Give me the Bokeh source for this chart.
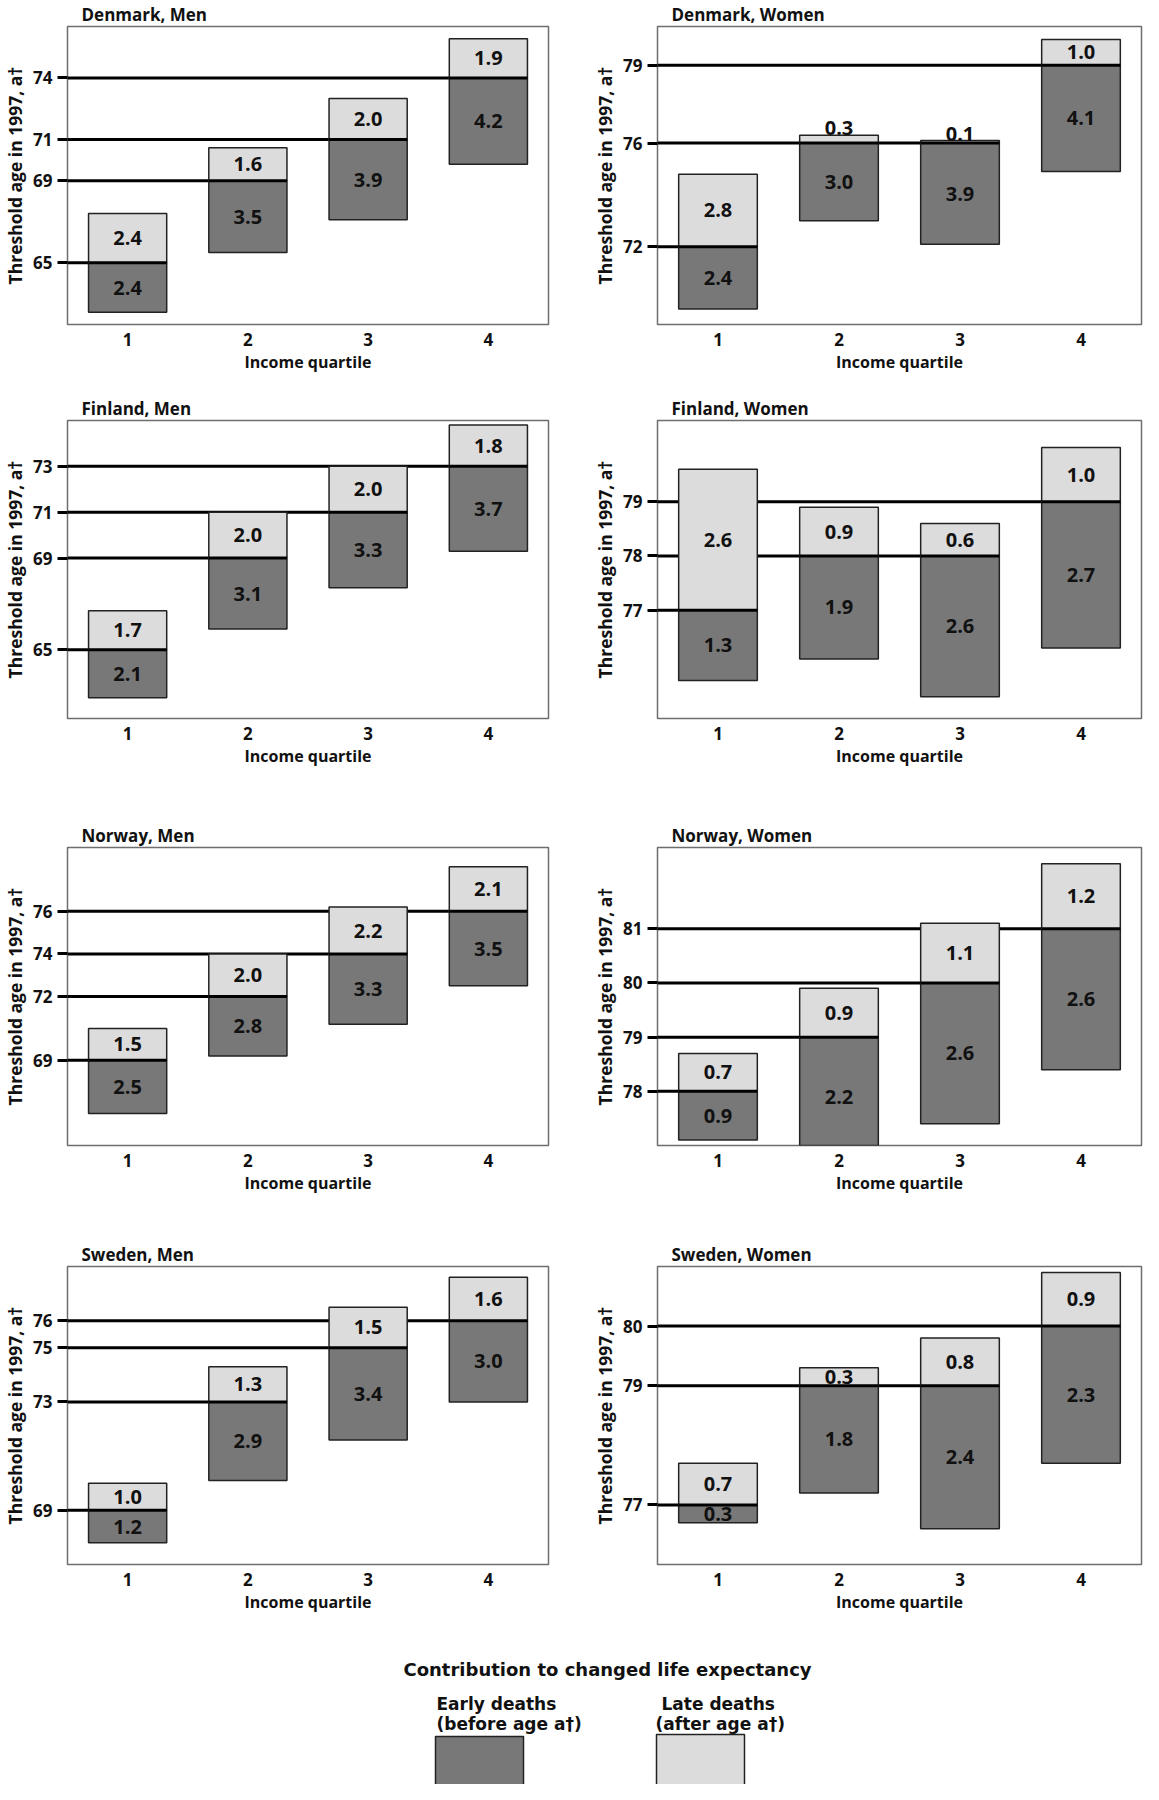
from bokeh.plotting import figure
from bokeh.layouts import column, row
from bokeh.models import Range1d, FixedTicker, ColumnDataSource
from bokeh.embed import file_html
from bokeh.resources import INLINE
from bokeh.core.properties import value

# ---------------- data ----------------
quartiles = [1, 2, 3, 4]

denmark_men_threshold = [65, 69, 71, 74]
denmark_men_early = [2.4, 3.5, 3.9, 4.2]
denmark_men_late = [2.4, 1.6, 2.0, 1.9]

denmark_women_threshold = [72, 76, 76, 79]
denmark_women_early = [2.4, 3.0, 3.9, 4.1]
denmark_women_late = [2.8, 0.3, 0.1, 1.0]

finland_men_threshold = [65, 69, 71, 73]
finland_men_early = [2.1, 3.1, 3.3, 3.7]
finland_men_late = [1.7, 2.0, 2.0, 1.8]

finland_women_threshold = [77, 78, 78, 79]
finland_women_early = [1.3, 1.9, 2.6, 2.7]
finland_women_late = [2.6, 0.9, 0.6, 1.0]

norway_men_threshold = [69, 72, 74, 76]
norway_men_early = [2.5, 2.8, 3.3, 3.5]
norway_men_late = [1.5, 2.0, 2.2, 2.1]

norway_women_threshold = [78, 79, 80, 81]
norway_women_early = [0.9, 2.2, 2.6, 2.6]
norway_women_late = [0.7, 0.9, 1.1, 1.2]

sweden_men_threshold = [69, 73, 75, 76]
sweden_men_early = [1.2, 2.9, 3.4, 3.0]
sweden_men_late = [1.0, 1.3, 1.5, 1.6]

sweden_women_threshold = [77, 79, 79, 80]
sweden_women_early = [0.3, 1.8, 2.4, 2.3]
sweden_women_late = [0.7, 0.3, 0.8, 0.9]

panel_titles = ["Denmark, Men", "Denmark, Women", "Finland, Men", "Finland, Women",
                "Norway, Men", "Norway, Women", "Sweden, Men", "Sweden, Women"]
panel_y_ranges = [(62, 76.5), (69, 80.5), (62, 75), (75, 80.5),
                  (65, 79), (77, 82.5), (67, 78), (76, 81)]

y_axis_label = "Threshold age in 1997, a\u2020"
x_axis_label = "Income quartile"
legend_title = "Contribution to changed life expectancy"
legend_early = ["Early deaths", "(before age a\u2020)"]
legend_late = ["Late deaths", "(after age a\u2020)"]

panels = [
    (denmark_men_threshold, denmark_men_early, denmark_men_late),
    (denmark_women_threshold, denmark_women_early, denmark_women_late),
    (finland_men_threshold, finland_men_early, finland_men_late),
    (finland_women_threshold, finland_women_early, finland_women_late),
    (norway_men_threshold, norway_men_early, norway_men_late),
    (norway_women_threshold, norway_women_early, norway_women_late),
    (sweden_men_threshold, sweden_men_early, sweden_men_late),
    (sweden_women_threshold, sweden_women_early, sweden_women_late),
]

# ---------------- style ----------------
DARK = "#787878"
LIGHT = "#dcdcdc"
FONT = "Open Sans"
BAR_W = 0.65
FRAME_H = 300

# (top border, bottom border) per row
row_borders = [(24, 70), (24, 103), (24, 95), (24, 60)]
col_specs = [dict(width=590, left=61, right=42), dict(width=553, left=67, right=2)]


def make_panel(idx, thr, early, late, yr, col, top_b, bot_b):
    spec = col_specs[col]
    height = top_b + FRAME_H + bot_b
    p = figure(width=spec["width"], height=height, output_backend="svg",
               toolbar_location=None, x_range=Range1d(0.5, 4.5),
               y_range=Range1d(yr[0], yr[1]),
               min_border_left=spec["left"], min_border_right=spec["right"],
               min_border_top=top_b, min_border_bottom=bot_b)
    p.title.text = panel_titles[idx]
    p.title.align = "left"
    p.title.offset = 14
    p.title.standoff = 1
    p.title.text_font = FONT
    p.title.text_font_size = "17px"
    p.title.text_font_style = "bold"
    p.title.text_color = "#111111"

    p.xgrid.visible = False
    p.ygrid.visible = False
    p.outline_line_color = "#6e6e6e"
    p.outline_line_width = 1.5
    p.background_fill_color = "white"
    p.border_fill_color = "white"

    # threshold lines (behind bars): from left edge to right edge of last bar with that threshold
    lx0, lx1, ly = [], [], []
    for t in sorted(set(thr)):
        qlast = max(q for q, tt in zip(quartiles, thr) if tt == t)
        lx0.append(p.x_range.start)
        lx1.append(qlast + BAR_W / 2)
        ly.append(t)
    p.segment(x0=lx0, x1=lx1, y0=ly, y1=ly, line_color="black", line_width=3,
              line_cap="butt")

    src = ColumnDataSource(dict(
        q=quartiles, thr=thr,
        eb=[t - e for t, e in zip(thr, early)],
        lt=[t + l for t, l in zip(thr, late)],
        x0=[q - BAR_W / 2 for q in quartiles],
        x1=[q + BAR_W / 2 for q in quartiles],
    ))
    p.vbar(x="q", width=BAR_W, bottom="eb", top="thr", source=src,
           fill_color=DARK, line_color="#222222", line_width=1.5)
    p.vbar(x="q", width=BAR_W, bottom="thr", top="lt", source=src,
           fill_color=LIGHT, line_color="#222222", line_width=1.5)
    p.segment(x0="x0", x1="x1", y0="thr", y1="thr", source=src,
              line_color="black", line_width=3, line_cap="butt")

    # value labels
    px_per_year = FRAME_H / (yr[1] - yr[0])
    in_x, in_y, in_t, ab_x, ab_y, ab_t = [], [], [], [], [], []
    for q, t, e, l in zip(quartiles, thr, early, late):
        for val, mid, top in ((e, t - e / 2, t), (l, t + l / 2, t + l)):
            if val * px_per_year < 14:
                ab_x.append(q); ab_y.append(top); ab_t.append(f"{val:.1f}")
            else:
                in_x.append(q); in_y.append(mid); in_t.append(f"{val:.1f}")
    p.text(x=in_x, y=in_y, text=in_t, text_align="center", text_baseline="middle",
           text_font=value(FONT), text_font_style="bold", text_font_size="20px",
           text_color="#111111")
    if ab_x:
        p.text(x=ab_x, y=ab_y, text=ab_t, text_align="center", text_baseline="bottom",
               y_offset=0, text_font=value(FONT), text_font_style="bold",
               text_font_size="20px", text_color="#111111")

    # axes
    p.xaxis.ticker = FixedTicker(ticks=quartiles)
    p.xaxis.axis_line_color = None
    p.xaxis.major_tick_line_color = None
    p.xaxis.minor_tick_line_color = None
    p.xaxis.major_tick_out = 0
    p.xaxis.major_tick_in = 0
    p.xaxis.major_label_standoff = 8
    p.xaxis.axis_label = x_axis_label
    p.xaxis.axis_label_standoff = 2

    p.yaxis.ticker = FixedTicker(ticks=sorted(set(thr)))
    p.yaxis.axis_line_color = None
    p.yaxis.minor_tick_line_color = None
    p.yaxis.major_tick_line_color = "black"
    p.yaxis.major_tick_line_width = 3
    p.yaxis.major_tick_out = 10
    p.yaxis.major_tick_in = 0
    p.yaxis.major_label_standoff = 5
    p.yaxis.axis_label = y_axis_label
    p.yaxis.axis_label_standoff = 3

    for ax in (p.xaxis, p.yaxis):
        ax.major_label_text_font = FONT
        ax.major_label_text_font_style = "bold"
        ax.major_label_text_font_size = "17px"
        ax.major_label_text_color = "#111111"
        ax.axis_label_text_font = FONT
        ax.axis_label_text_font_style = "bold"
        ax.axis_label_text_color = "#111111"
    p.xaxis.axis_label_text_font_size = "16px"
    p.yaxis.axis_label_text_font_size = "17.5px"
    return p


rows = []
for r in range(4):
    top_b, bot_b = row_borders[r]
    figs = []
    for c in range(2):
        i = 2 * r + c
        thr, early, late = panels[i]
        figs.append(make_panel(i, thr, early, late, panel_y_ranges[i], c, top_b, bot_b))
    rows.append(row(*figs))

# ---------------- legend ----------------
LEG_TOP, LEG_BOT = 1632, 1792
leg = figure(width=1143, height=LEG_BOT - LEG_TOP, output_backend="svg",
             toolbar_location=None, x_range=Range1d(8, 1151),
             y_range=Range1d(LEG_BOT, LEG_TOP), min_border=0,
             x_axis_type=None, y_axis_type=None)
leg.xgrid.visible = False
leg.ygrid.visible = False
leg.outline_line_color = None
LFONT = value("DejaVu Sans")
leg.text(x=[615], y=[1677], text=[legend_title], text_align="center",
         text_baseline="middle", text_font=LFONT, text_font_style="bold",
         text_font_size="18px", text_color="#111111")
leg.text(x=[444, 444], y=[1711, 1731], text=legend_early, text_align="left",
         text_baseline="middle", text_font=LFONT, text_font_style="bold",
         text_font_size="17px", text_color="#111111")
leg.text(x=[669, 663], y=[1711, 1731], text=legend_late, text_align="left",
         text_baseline="middle", text_font=LFONT, text_font_style="bold",
         text_font_size="17px", text_color="#111111")
leg.quad(left=[443], right=[531], top=[1744], bottom=[1800], fill_color=DARK,
         line_color="#222222", line_width=1.5)
leg.quad(left=[664], right=[752], top=[1742], bottom=[1800], fill_color=LIGHT,
         line_color="#222222", line_width=1.5)

layout = column(*rows, leg)
open("out.html", "w").write(file_html(layout, INLINE))
